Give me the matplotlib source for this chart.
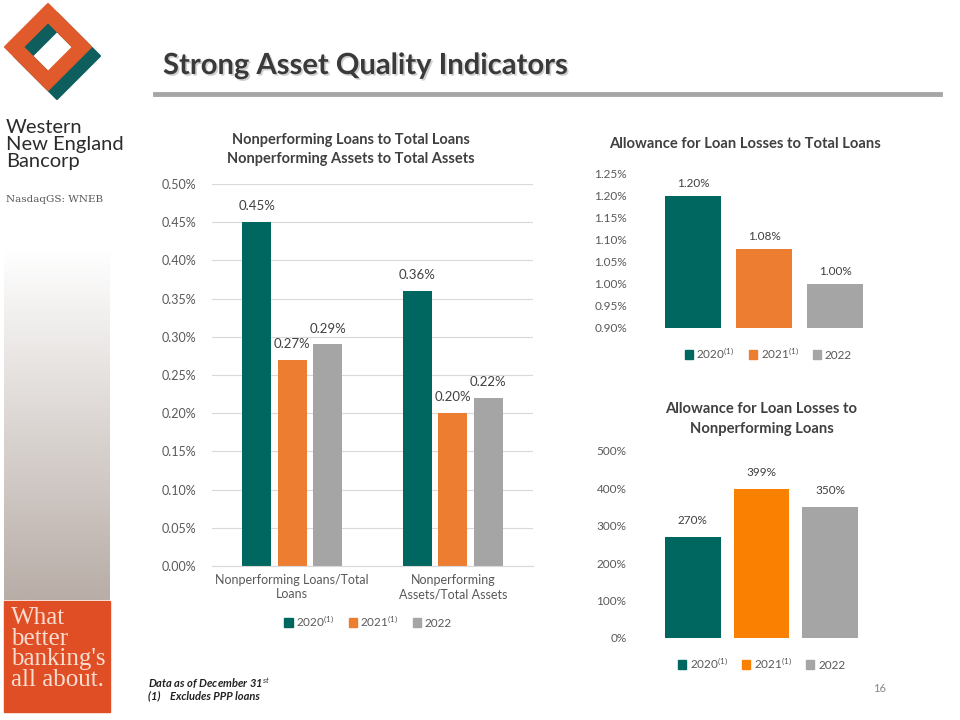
import numpy as np
import matplotlib.pyplot as plt
from matplotlib.patches import Rectangle, Polygon, PathPatch
from matplotlib.path import Path
from matplotlib.ticker import PercentFormatter, MultipleLocator
from matplotlib.colors import LinearSegmentedColormap
import matplotlib.patheffects as pe

plt.rcParams['font.family'] = ['Lato', 'DejaVu Sans']
plt.rcParams['mathtext.fontset'] = 'custom'
plt.rcParams['mathtext.rm'] = 'Lato'
plt.rcParams['mathtext.it'] = 'Lato:italic'
plt.rcParams['mathtext.bf'] = 'Lato:bold'

# data
years = ['2020$^{(1)}$', '2021$^{(1)}$', '2022']
np_categories = ['Nonperforming Loans/Total\nLoans', 'Nonperforming\nAssets/Total Assets']
np_values = {  # percent
    '2020': [0.45, 0.36],
    '2021': [0.27, 0.20],
    '2022': [0.29, 0.22],
}
allowance_loans = [1.20, 1.08, 1.00]
allowance_npl = [270, 399, 350]

TEAL = '#006660'
ORANGE = '#ED7D31'
ORANGE2 = '#F98000'
GRAY = '#A5A5A5'
TXT = '#404040'
TICK = '#595959'
LOGO_OR = '#E05A2B'
LOGO_TE = '#0E5E5E'

fig = plt.figure(figsize=(9.6, 7.2), dpi=100)

# ---- decoration layer in pixel coords
deco = fig.add_axes([0, 0, 1, 1], zorder=-1)
deco.set_xlim(0, 960)
deco.set_ylim(720, 0)
deco.axis('off')


def diamond(cx, cy, r):
    return [(cx, cy - r), (cx + r, cy), (cx, cy + r), (cx - r, cy)]


def ring(cx, cy, r_out, r_in, color, clip=None):
    outer = diamond(cx, cy, r_out)
    inner = diamond(cx, cy, r_in)[::-1]
    verts = outer + [outer[0]] + inner + [inner[0]]
    codes = ([Path.MOVETO] + [Path.LINETO] * 3 + [Path.CLOSEPOLY]) * 2
    p = PathPatch(Path(verts, codes), color=color, lw=1.5, joinstyle='round')
    deco.add_patch(p)
    if clip is not None:
        p.set_clip_path(clip)
    return p


# logo: two interlocking diamond rings
ring(57, 56, 43, 25, LOGO_TE)
ring(48, 47, 43, 25, LOGO_OR)
clip = Polygon([(0, 40), (0, 120), (60, 120)], closed=True, transform=deco.transData)
ring(57, 56, 43, 25, LOGO_TE, clip=clip)

deco.text(6, 119, 'Western\nNew England\nBancorp', fontsize=14.5, color='#2b2b2b',
          va='top', ha='left', linespacing=1.0)
deco.text(6, 199, 'NasdaqGS: WNEB', fontsize=7.5, color='#555555', family='DejaVu Serif',
          va='center', ha='left')

grad = np.linspace(0, 1, 256).reshape(-1, 1)
cm = LinearSegmentedColormap.from_list('g', ['#ffffff', '#b8ada7'])
deco.imshow(grad, cmap=cm, extent=(4, 110, 600, 250), aspect='auto', zorder=0)
deco.add_patch(Rectangle((4, 601), 106, 111, color='#E04E26'))
deco.text(11, 607, "What\nbetter\nbanking's\nall about.", fontsize=18, color='#F8DDD0',
          family='Liberation Serif', va='top', ha='left', linespacing=0.92)

title = deco.text(163, 66, 'Strong Asset Quality Indicators', fontsize=21, fontweight='bold',
                  color='#3a3a3a', va='center', ha='left')
title.set_path_effects([pe.withSimplePatchShadow(offset=(1.2, -1.2), alpha=0.2)])
deco.plot([155, 940], [94, 94], color='#A6A6A6', lw=3.5,
          path_effects=[pe.withSimplePatchShadow(offset=(1, -2), alpha=0.25)])

deco.text(148, 684, 'Data as of December 31$^{st}$', fontsize=8, style='italic',
          fontweight='bold', color='#222222', va='center')
deco.text(148, 696, '(1)    Excludes PPP loans', fontsize=8, style='italic',
          fontweight='bold', color='#222222', va='center')
deco.text(880, 688, '16', fontsize=8, color='#888888', va='center', ha='center')


def legend(ax, colors, x, y):
    handles = [Rectangle((0, 0), 1, 1, color=c) for c in colors]
    ax.legend(handles, years, loc='center', bbox_to_anchor=(x, y), ncol=3, frameon=False,
              handlelength=0.7, handleheight=0.7, handletextpad=0.3, columnspacing=1.2,
              fontsize=8.5, labelcolor=TICK)


# ---- left chart
ax1 = fig.add_axes([212 / 960, 1 - 566 / 720, 321 / 960, 382 / 720])
x = np.arange(len(np_categories))
w = 0.18
for i, (yr, col) in enumerate(zip(['2020', '2021', '2022'], [TEAL, ORANGE, GRAY])):
    bars = ax1.bar(x + (i - 1) * 0.222, np_values[yr], width=w, color=col, zorder=2)
    for b, v in zip(bars, np_values[yr]):
        ax1.annotate(f'{v:.2f}%', (b.get_x() + b.get_width() / 2, v), xytext=(0, 7),
                     textcoords='offset points', ha='center', va='bottom', fontsize=9.5, color=TXT)
ax1.set_xlim(-0.5, 1.5)
ax1.set_ylim(0, 0.5)
ax1.yaxis.set_major_locator(MultipleLocator(0.05))
ax1.yaxis.set_major_formatter(PercentFormatter(decimals=2))
ax1.set_xticks(x, np_categories)
ax1.grid(axis='y', color='#D9D9D9', lw=0.8, zorder=0)
for s in ['top', 'right', 'left']:
    ax1.spines[s].set_visible(False)
ax1.spines['bottom'].set_color('#D9D9D9')
ax1.tick_params(length=0, labelsize=9, labelcolor=TICK)
ax1.tick_params(axis='y', pad=11)
ax1.tick_params(axis='x', pad=6)
ax1.set_title('Nonperforming Loans to Total Loans\nNonperforming Assets to Total Assets',
              fontsize=10.5, fontweight='bold', color=TXT, pad=15, x=0.433, linespacing=1.5)
legend(ax1, [TEAL, ORANGE, GRAY], 0.486, -0.144)

# ---- top right chart
ax2 = fig.add_axes([657.5 / 960, 1 - 328 / 720, 213 / 960, 154 / 720])
xr = np.arange(3)
bars = ax2.bar(xr, allowance_loans, width=0.8, color=[TEAL, ORANGE, GRAY])
for b, v in zip(bars, allowance_loans):
    ax2.annotate(f'{v:.2f}%', (b.get_x() + b.get_width() / 2, v), xytext=(0, 5),
                 textcoords='offset points', ha='center', va='bottom', fontsize=8.5, color=TXT)
ax2.set_xlim(-0.5, 2.5)
ax2.set_ylim(0.9, 1.25)
ax2.yaxis.set_major_locator(MultipleLocator(0.05))
ax2.yaxis.set_major_formatter(PercentFormatter(decimals=2))
ax2.set_xticks([])
for s in ax2.spines.values():
    s.set_visible(False)
ax2.tick_params(length=0, labelsize=8.5, labelcolor=TICK, pad=22)
ax2.set_title('Allowance for Loan Losses to Total Loans', fontsize=10.6, fontweight='bold',
              color=TXT, pad=19, x=0.41)
legend(ax2, [TEAL, ORANGE, GRAY], 0.52, -0.162)

# ---- bottom right chart
ax3 = fig.add_axes([658.5 / 960, 1 - 638 / 720, 206 / 960, 187 / 720])
bars = ax3.bar(xr, allowance_npl, width=0.81, color=[TEAL, ORANGE2, GRAY])
for b, v in zip(bars, allowance_npl):
    ax3.annotate(f'{v}%', (b.get_x() + b.get_width() / 2, v), xytext=(0, 8),
                 textcoords='offset points', ha='center', va='bottom', fontsize=8.5, color=TXT)
ax3.set_xlim(-0.5, 2.5)
ax3.set_ylim(0, 500)
ax3.yaxis.set_major_locator(MultipleLocator(100))
ax3.yaxis.set_major_formatter(PercentFormatter(decimals=0))
ax3.set_xticks([])
for s in ax3.spines.values():
    s.set_visible(False)
ax3.tick_params(length=0, labelsize=8.5, labelcolor=TICK, pad=23)
ax3.set_title('Allowance for Loan Losses to\nNonperforming Loans', fontsize=10.6,
              fontweight='bold', color=TXT, pad=13, linespacing=1.5)
legend(ax3, [TEAL, ORANGE2, GRAY], 0.50, -0.134)

fig.savefig('out.png', dpi=100)
